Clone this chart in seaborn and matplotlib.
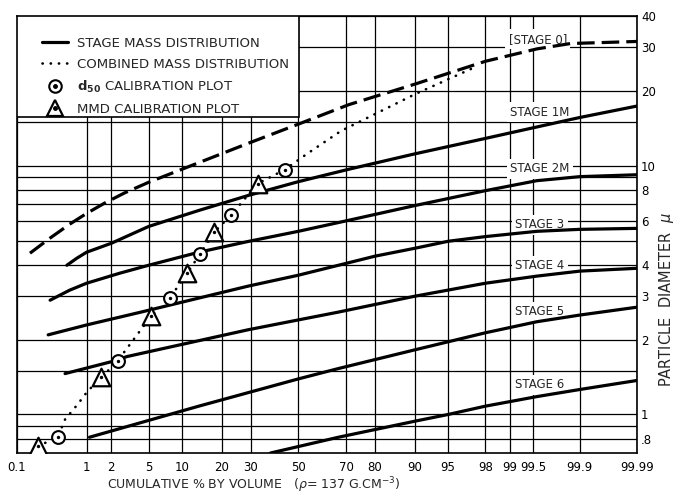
import numpy as np
import matplotlib
matplotlib.use("Agg")
import matplotlib.pyplot as plt
import seaborn as sns
from statistics import NormalDist
from matplotlib.lines import Line2D
from matplotlib.patches import Rectangle
from matplotlib.ticker import FixedLocator, FixedFormatter, NullLocator, NullFormatter

# Stage curves: cumulative % by volume vs particle diameter (micron)
stage0_pct = [0.16, 0.32, 0.6, 1, 1.66, 2.8, 5, 10, 29, 50, 71, 90, 98, 99.56, 99.86, 99.99]
stage0_dia = [4.45, 5.12, 5.82, 6.43, 7.07, 7.77, 8.58, 9.67, 12.3, 14.7, 17.6, 21.3, 26.3,
              29.5, 31.0, 31.6]

stage1m_pct = [0.55, 0.75, 1, 2, 5, 13.7, 29, 50, 71, 90, 98, 99.56, 99.9, 99.99]
stage1m_dia = [3.98, 4.25, 4.49, 4.88, 5.70, 6.61, 7.59, 8.63, 9.68, 11.17, 12.88, 14.32,
               15.63, 17.38]

stage2m_pct = [0.32, 0.6, 1, 2.5, 5, 13.7, 29, 50, 67, 90, 98, 99.56, 99.9, 99.99]
stage2m_dia = [2.88, 3.16, 3.37, 3.70, 3.98, 4.49, 4.96, 5.45, 5.91, 6.92, 7.94, 8.71, 9.04, 9.2]

stage3_pct = [0.3, 1, 4.2, 9.5, 29, 50, 67, 80, 90, 95, 98, 99.56, 99.9, 99.99]
stage3_dia = [2.09, 2.29, 2.58, 2.81, 3.28, 3.63, 3.98, 4.33, 4.66, 4.97, 5.19, 5.45, 5.55, 5.6]

stage4_pct = [0.52, 2, 3, 13.7, 29, 50, 67, 90, 98, 99.56, 99.9, 99.99]
stage4_dia = [1.46, 1.63, 1.71, 1.98, 2.19, 2.40, 2.58, 2.99, 3.37, 3.60, 3.77, 3.87]

stage5_pct = [1.09, 13.7, 50, 67, 90, 95, 98, 99.56, 99.9, 99.99]
stage5_dia = [0.81, 1.08, 1.39, 1.53, 1.82, 1.96, 2.13, 2.36, 2.51, 2.70]

stage6_pct = [38, 67, 90, 95, 98, 99.56, 99.9, 99.99]
stage6_dia = [0.70, 0.81, 0.94, 1.0, 1.08, 1.18, 1.26, 1.37]

# Combined mass distribution (dotted)
comb_pct = [0.21, 0.41, 0.52, 0.77, 1.03, 1.53, 2.35, 5.3, 7.9, 11.1, 14.0, 17.7,
            22.9, 32.7, 44, 54, 68, 90, 97.5]
comb_dia = [0.745, 0.81, 0.955, 1.1, 1.24, 1.41, 1.64, 2.49, 2.94, 3.7, 4.41, 5.4,
            6.31, 8.47, 9.64, 11.2, 13.8, 19.4, 25.1]

# Calibration points
d50_pct = [0.41, 2.35, 7.9, 14.0, 22.9, 44.0]
d50_dia = [0.81, 1.64, 2.94, 4.41, 6.31, 9.64]
mmd_pct = [0.21, 1.53, 5.3, 11.1, 17.7, 32.7]
mmd_dia = [0.745, 1.41, 2.49, 3.70, 5.40, 8.47]

stage_names = ["[STAGE 0]", "STAGE 1M", "STAGE 2M", "STAGE 3", "STAGE 4", "STAGE 5", "STAGE 6"]

x_ticks = [0.1, 1, 2, 5, 10, 20, 30, 50, 70, 80, 90, 95, 98, 99, 99.5, 99.9, 99.99]
x_tick_labels = ["0.1", "1", "2", "5", "10", "20", "30", "50", "70", "80", "90", "95",
                 "98", "99", "99.5", "99.9", "99.99"]
y_ticks = [0.8, 1, 2, 3, 4, 6, 8, 10, 20, 30, 40]
y_tick_labels = [".8", "1", "2", "3", "4", "6", "8", "10", "20", "30", "40"]
y_minor = [0.9, 1.5, 5, 7, 9, 15]

sns.set_style("white")
plt.rcParams["font.family"] = ["DejaVu Sans"]

nd = NormalDist()


def pct_to_z(p):
    p = np.atleast_1d(np.asarray(p, dtype=float))
    out = np.full(p.shape, np.nan)
    ok = np.isfinite(p)
    q = np.clip(p[ok] / 100.0, 1e-9, 1 - 1e-9)
    out[ok] = [nd.inv_cdf(v) for v in q]
    return out


def z_to_pct(z):
    z = np.atleast_1d(np.asarray(z, dtype=float))
    out = np.full(z.shape, np.nan)
    ok = np.isfinite(z)
    out[ok] = [nd.cdf(v) * 100 for v in z[ok]]
    return out


fig = plt.figure(figsize=(6.8, 4.97), dpi=100)
ax = fig.add_axes([17 / 680, 1 - 453 / 497, 620 / 680, 437 / 497])
ax.set_xscale("function", functions=(pct_to_z, z_to_pct))
ax.set_yscale("log")

# stage curves
sns.lineplot(x=stage0_pct, y=stage0_dia, sort=False, estimator=None, color="k",
             lw=2.3, linestyle=(0, (5.5, 2.2)), ax=ax, zorder=3)
for p, d in [(stage1m_pct, stage1m_dia), (stage2m_pct, stage2m_dia),
             (stage3_pct, stage3_dia), (stage4_pct, stage4_dia),
             (stage5_pct, stage5_dia), (stage6_pct, stage6_dia)]:
    sns.lineplot(x=p, y=d, sort=False, estimator=None, color="k", lw=2.3, ax=ax, zorder=3)

sns.lineplot(x=comb_pct, y=comb_dia, sort=False, estimator=None, color="k", lw=1.9,
             linestyle=(0, (0.1, 3.0)), dash_capstyle="round", ax=ax, zorder=3)

# calibration markers
sns.scatterplot(x=d50_pct, y=d50_dia, marker="o", s=85, facecolor="white",
                edgecolor="k", linewidth=1.5, ax=ax, zorder=6)
sns.scatterplot(x=mmd_pct, y=mmd_dia, marker="^", s=160, facecolor="white",
                edgecolor="k", linewidth=1.6, ax=ax, zorder=6)
sns.scatterplot(x=d50_pct + mmd_pct, y=d50_dia + mmd_dia, marker="o", s=6,
                color="k", linewidth=0, ax=ax, zorder=7)

ax.set_xlim(0.1, 99.99)
ax.set_ylim(0.7, 40)
ax.set_xlabel("")
ax.set_ylabel("")

ax.xaxis.set_major_locator(FixedLocator(x_ticks))
ax.xaxis.set_major_formatter(FixedFormatter(x_tick_labels))
ax.xaxis.set_minor_locator(NullLocator())
ax.yaxis.set_major_locator(FixedLocator(y_ticks))
ax.yaxis.set_major_formatter(FixedFormatter(y_tick_labels))
ax.yaxis.set_minor_locator(FixedLocator(y_minor))
ax.yaxis.set_minor_formatter(NullFormatter())
ax.yaxis.tick_right()
ax.tick_params(axis="both", which="both", length=0, labelsize=8.5, colors="k")
ax.tick_params(axis="x", pad=6)
ax.tick_params(axis="y", pad=3)
ax.grid(True, which="both", color="k", lw=0.9)
ax.set_axisbelow(True)
for sp in ax.spines.values():
    sp.set_color("k")
    sp.set_linewidth(1.2)

# stage labels
label_x = [0.840, 0.843, 0.843, 0.843, 0.843, 0.843, 0.843]
label_y = [0.947, 0.780, 0.650, 0.522, 0.428, 0.323, 0.156]
for name, lx, ly in zip(stage_names, label_x, label_y):
    ax.text(lx, ly, name, transform=ax.transAxes, ha="center", va="center",
            fontsize=8.5, zorder=2,
            bbox=dict(facecolor="white", edgecolor="none", pad=2.5))

# legend box
ax.add_patch(Rectangle((0, 0.769), 0.455, 0.231, transform=ax.transAxes,
                       facecolor="white", edgecolor="k", lw=1.2, zorder=8))
h_stage = Line2D([], [], color="k", lw=2.3)
h_comb = Line2D([], [], color="k", lw=1.9, linestyle=(0, (0.1, 3.0)), dash_capstyle="round")
h_d50 = (Line2D([], [], ls="", marker="o", ms=9, mfc="white", mec="k", mew=1.5),
         Line2D([], [], ls="", marker="o", ms=2.5, color="k"))
h_mmd = (Line2D([], [], ls="", marker="^", ms=12, mfc="white", mec="k", mew=1.6),
         Line2D([], [], ls="", marker="o", ms=2.5, color="k"))
leg = ax.legend([h_stage, h_comb, h_d50, h_mmd],
                ["STAGE MASS DISTRIBUTION", "COMBINED MASS DISTRIBUTION",
                 r"$\mathbf{d_{50}}$ CALIBRATION PLOT", "MMD CALIBRATION PLOT"],
                loc="upper left", bbox_to_anchor=(0.04, 0.952), frameon=False,
                fontsize=9.5, handlelength=2.0, handletextpad=0.7, labelspacing=0.6,
                borderpad=0, borderaxespad=0, numpoints=1)
leg.set_zorder(9)

fig.text(254 / 680, 1 - 485 / 497, "CUMULATIVE % BY VOLUME   ($\\rho$= 137 G.CM$^{-3}$)",
         ha="center", va="center", fontsize=9)
fig.text(667 / 680, 1 - 300 / 497, "PARTICLE  DIAMETER  $\\mu$", rotation=90,
         ha="center", va="center", fontsize=10.5)

fig.savefig("out.png", dpi=100)
